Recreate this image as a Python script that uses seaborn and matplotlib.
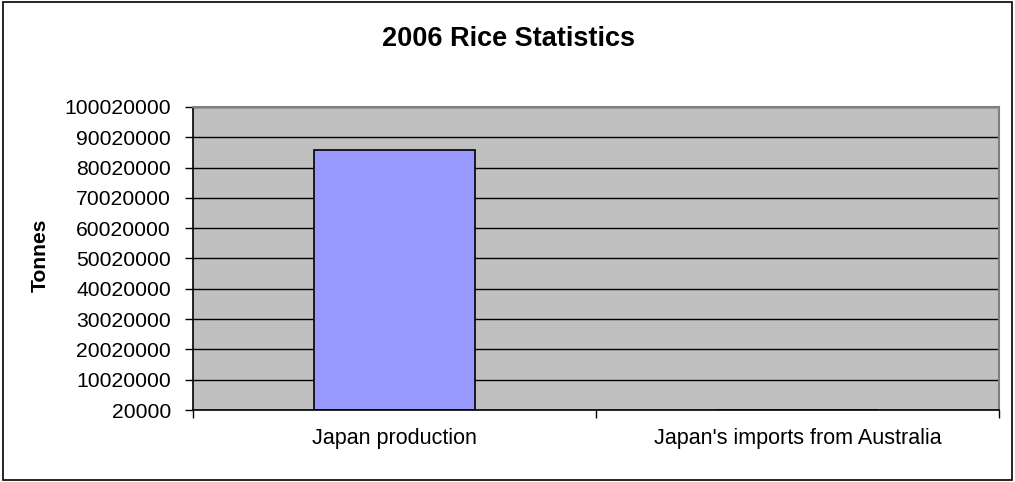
import numpy as np
import pandas as pd
import seaborn as sns
import matplotlib.pyplot as plt
from matplotlib.patches import Rectangle
from matplotlib.ticker import FixedLocator

# Chart data
categories = ["Japan production", "Japan's imports from Australia"]
tonnes = [85750000, 0]
y_ticks = [20000, 10020000, 20020000, 30020000, 40020000, 50020000,
           60020000, 70020000, 80020000, 90020000, 100020000]

sns.set_style("white")
plt.rcParams["font.family"] = ["Liberation Sans", "DejaVu Sans"]
plt.rcParams["text.color"] = "black"
plt.rcParams["xtick.labelcolor"] = "black"
plt.rcParams["ytick.labelcolor"] = "black"

df = pd.DataFrame({"Category": categories, "Tonnes": tonnes})

fig = plt.figure(figsize=(10.15, 4.82), dpi=100)
ax = fig.add_axes([193 / 1015, 1 - 410 / 482, (999 - 193) / 1015, (410 - 107) / 482])
ax.set_facecolor("#C0C0C0")

sns.barplot(data=df, x="Category", y="Tonnes", ax=ax, color="#9999FF",
            edgecolor="black", linewidth=1.2, width=0.40, saturation=1)

ax.set_ylim(y_ticks[0], y_ticks[-1])
ax.set_xlim(-0.5, 1.5)
ax.set_yticks(y_ticks)
ax.set_yticklabels([str(v) for v in y_ticks], fontsize=15.2)
ax.yaxis.grid(True, color="black", linewidth=1)
ax.set_axisbelow(True)

# category ticks sit between the bars, labels in the middle
ax.tick_params(axis="x", which="major", length=0, pad=13, labelsize=15.5, labelcolor="black")
ax.xaxis.set_minor_locator(FixedLocator([-0.5, 0.5, 1.5]))
ax.tick_params(axis="x", which="minor", length=6, width=1, color="black", direction="out", bottom=True)
ax.tick_params(axis="y", length=6, width=1, color="black", direction="out", left=True, pad=10,
               labelcolor="black")

ax.set_xlabel("")
ax.set_ylabel("")
for side in ["left", "bottom"]:
    ax.spines[side].set_color("black")
    ax.spines[side].set_linewidth(1.2)
for side in ["top", "right"]:
    ax.spines[side].set_color("#808080")
    ax.spines[side].set_linewidth(1.5)

fig.text(509 / 1015, 1 - 39 / 482, "2006 Rice Statistics", ha="center", va="center",
         fontsize=19.5, fontweight="bold", color="black")
fig.text(40 / 1015, 1 - 255 / 482, "Tonnes", ha="center", va="center",
         rotation=90, fontsize=15.2, fontweight="bold", color="black")

# outer chart border
fig.patches.append(Rectangle((3 / 1015, 2 / 482), 1009 / 1015, 478 / 482,
                             transform=fig.transFigure, fill=False,
                             edgecolor="black", linewidth=1.2))

fig.savefig("out.png", dpi=100)
